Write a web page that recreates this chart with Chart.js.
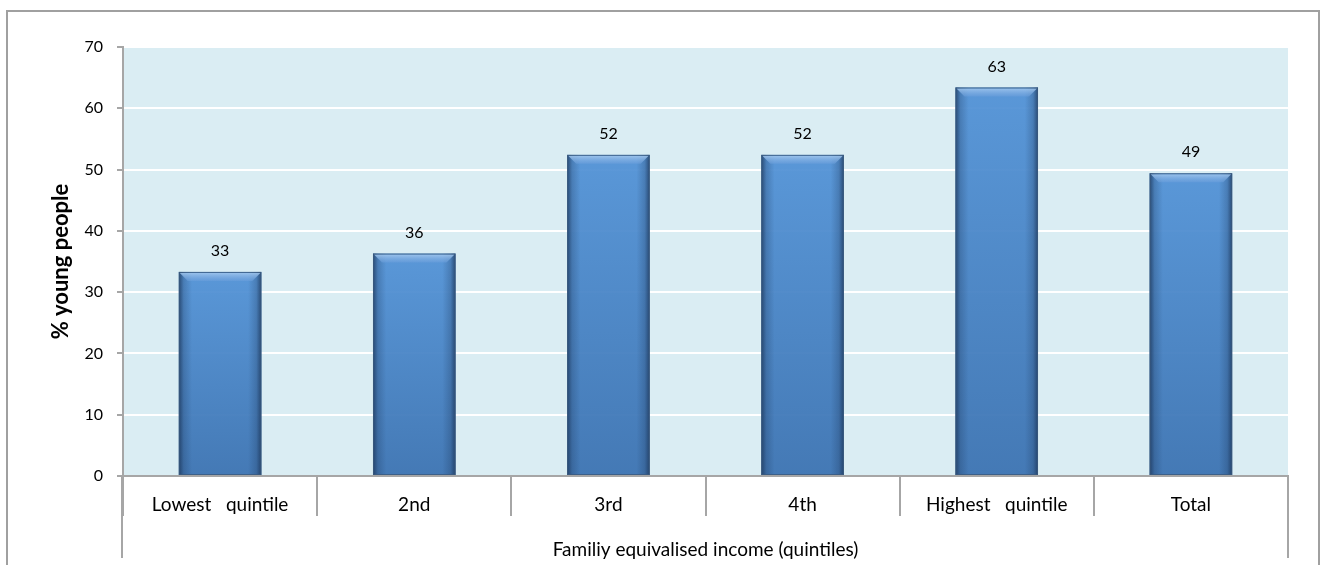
<!DOCTYPE html>
<html>
<head>
<meta charset="utf-8">
<script src="https://cdn.jsdelivr.net/npm/chart.js@4/dist/chart.umd.min.js"></script>
<style>
  html, body { margin: 0; padding: 0; background: #fff; }
  #wrap { width: 1323px; height: 565px; }
</style>
</head>
<body>
<div id="wrap"><canvas id="myChart" width="1323" height="565"></canvas></div>
<script>
const categories = ['Lowest   quintile', '2nd', '3rd', '4th', 'Highest   quintile', 'Total'];
const values = [33.3, 36.3, 52.4, 52.4, 63.4, 49.4];
const yTicks = [0, 10, 20, 30, 40, 50, 60, 70];

const FONT = 'Lato, "Open Sans", sans-serif';
const GREY = '#a6a6a6';

// frame, plot background, outer bracket lines
const decor = {
  id: 'decor',
  beforeDraw(chart) {
    const { ctx, chartArea: a } = chart;
    ctx.save();
    ctx.fillStyle = '#daedf3';
    ctx.fillRect(a.left, a.top, a.right - a.left, a.bottom - a.top);
    ctx.strokeStyle = '#a0a0a0';
    ctx.lineWidth = 2;
    ctx.beginPath();
    ctx.moveTo(7, 600); ctx.lineTo(7, 11); ctx.lineTo(1319, 11); ctx.lineTo(1319, 600);
    ctx.stroke();
    ctx.restore();
  },
  afterDraw(chart) {
    const { ctx, chartArea: a } = chart;
    ctx.save();
    ctx.strokeStyle = GREY;
    ctx.lineWidth = 2;
    ctx.beginPath();
    ctx.moveTo(a.left - 1, a.bottom); ctx.lineTo(a.left - 1, 558);
    ctx.moveTo(a.right, a.bottom); ctx.lineTo(a.right, 558);
    ctx.stroke();
    ctx.restore();
  }
};

// shaded bevel look on bars + value labels
const barLook = {
  id: 'barLook',
  afterDatasetsDraw(chart) {
    const { ctx } = chart;
    const meta = chart.getDatasetMeta(0);
    ctx.save();
    meta.data.forEach((bar, i) => {
      const w = bar.width, x0 = bar.x - w / 2, x1 = bar.x + w / 2;
      const top = bar.y, bot = bar.base;
      // vertical shade, slightly see-through so the grid shows faintly
      let g = ctx.createLinearGradient(0, top, 0, bot);
      g.addColorStop(0, 'rgba(80,145,214,0.93)');
      g.addColorStop(1, 'rgba(60,115,178,0.95)');
      ctx.fillStyle = g;
      ctx.fillRect(x0, top, w, bot - top);
      // horizontal edge darkening
      g = ctx.createLinearGradient(x0, 0, x1, 0);
      g.addColorStop(0, 'rgba(25,50,85,0.75)');
      g.addColorStop(0.06, 'rgba(25,50,85,0.25)');
      g.addColorStop(0.16, 'rgba(25,50,85,0)');
      g.addColorStop(0.84, 'rgba(25,50,85,0)');
      g.addColorStop(0.94, 'rgba(25,50,85,0.25)');
      g.addColorStop(1, 'rgba(25,50,85,0.75)');
      ctx.fillStyle = g;
      ctx.fillRect(x0, top, w, bot - top);
      // top bevel
      const b = 9;
      g = ctx.createLinearGradient(0, top, 0, top + b);
      g.addColorStop(0, 'rgba(170,205,240,0.9)');
      g.addColorStop(1, 'rgba(110,160,220,0.5)');
      ctx.fillStyle = g;
      ctx.beginPath();
      ctx.moveTo(x0 + 1, top + 1); ctx.lineTo(x1 - 1, top + 1);
      ctx.lineTo(x1 - b, top + b); ctx.lineTo(x0 + b, top + b);
      ctx.closePath();
      ctx.fill();
      // outline
      ctx.strokeStyle = 'rgba(60,90,125,0.8)';
      ctx.lineWidth = 1;
      ctx.strokeRect(x0 + 0.5, top + 0.5, w - 1, bot - top - 1);
      // value label
      ctx.fillStyle = '#000';
      ctx.font = '16px ' + FONT;
      ctx.textAlign = 'center';
      ctx.textBaseline = 'middle';
      ctx.fillText(Math.round(values[i]), bar.x, top - 21);
    });
    ctx.restore();
  }
};

new Chart(document.getElementById('myChart'), {
  type: 'bar',
  data: {
    labels: categories,
    datasets: [{
      data: values,
      backgroundColor: 'rgba(0,0,0,0)',
      borderWidth: 0,
      categoryPercentage: 1,
      barPercentage: 0.425
    }]
  },
  options: {
    responsive: false,
    animation: false,
    layout: { padding: { top: 47, right: 35, left: 0, bottom: 0 } },
    plugins: { legend: { display: false }, tooltip: { enabled: false } },
    scales: {
      x: {
        afterFit(s) { s.height = 89; },
        grid: { offset: true, drawOnChartArea: false, color: GREY, lineWidth: 2, tickLength: 40 },
        border: { color: GREY, width: 2 },
        ticks: { color: '#000', font: { family: FONT, size: 19 }, padding: -23, maxRotation: 0 },
        title: {
          display: true,
          text: 'Familiy equivalised income (quintiles)',
          color: '#000',
          font: { family: FONT, size: 19 },
          padding: { top: 0, bottom: 4 }
        }
      },
      y: {
        min: 0,
        max: 70,
        afterFit(s) { s.width = 123; },
        afterBuildTicks(s) { s.ticks = yTicks.map(v => ({ value: v })); },
        grid: { color: '#ffffff', lineWidth: 2, tickColor: GREY, tickLength: 6, drawTicks: true },
        border: { color: GREY, width: 2 },
        ticks: { color: '#000', font: { family: FONT, size: 16 }, padding: 14 },
        title: {
          display: true,
          text: '% young people',
          color: '#000',
          font: { family: FONT, size: 22, weight: 'bold' },
          padding: { top: 48, bottom: 0 }
        }
      }
    }
  },
  plugins: [decor, barLook]
});
</script>
</body>
</html>
